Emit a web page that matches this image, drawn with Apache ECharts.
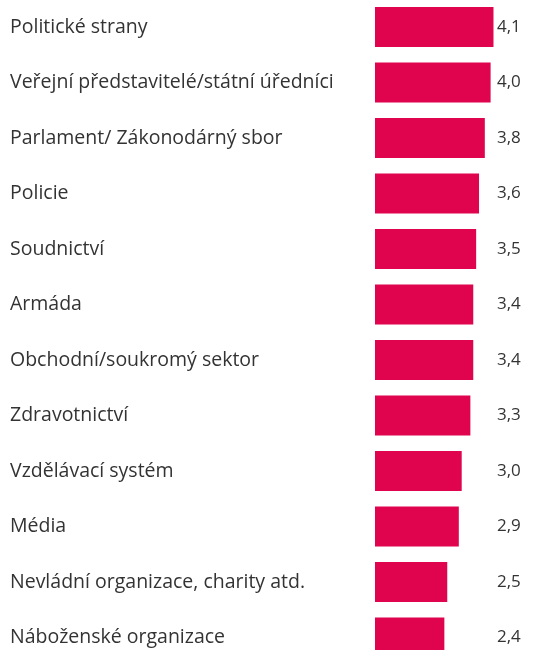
<!DOCTYPE html>
<html>
<head>
<meta charset="utf-8">
<script src="https://cdn.jsdelivr.net/npm/echarts@6/dist/echarts.min.js"></script>
<style>
html,body{margin:0;padding:0;background:#fff;}
#chart{width:534px;height:650px;}
</style>
</head>
<body>
<div id="chart"></div>
<script>
var categories = [
  "Politické strany",
  "Veřejní představitelé/státní úředníci",
  "Parlament/ Zákonodárný sbor",
  "Policie",
  "Soudnictví",
  "Armáda",
  "Obchodní/soukromý sektor",
  "Zdravotnictví",
  "Vzdělávací systém",
  "Média",
  "Nevládní organizace, charity atd.",
  "Náboženské organizace"
];
var values = [4.1, 4.0, 3.8, 3.6, 3.5, 3.4, 3.4, 3.3, 3.0, 2.9, 2.5, 2.4];

var LABEL_COLUMN = 4.22; // axis position of the aligned value-label column
var labelAnchor = categories.map(function(){ return LABEL_COLUMN; });

var chart = echarts.init(document.getElementById('chart'), null, {renderer: 'canvas'});
chart.setOption({
  animation: false,
  backgroundColor: '#ffffff',
  grid: { left: 375, width: 144.5, top: -0.75, height: 666, containLabel: false, outerBoundsMode: 'none' },
  xAxis: {
    type: 'value', min: 0, max: 5,
    show: false
  },
  yAxis: {
    type: 'category',
    data: categories,
    inverse: true,
    axisLine: { show: false },
    axisTick: { show: false },
    splitLine: { show: false },
    axisLabel: {
      align: 'left',
      margin: 365,
      fontSize: 19.5,
      fontFamily: 'Open Sans',
      color: '#333333'
    }
  },
  series: [
    {
      type: 'bar',
      data: values,
      barWidth: 40,
      itemStyle: { color: '#e0044e' },
      z: 2
    },
    {
      type: 'bar',
      data: labelAnchor,
      barWidth: 40,
      barGap: '-100%',
      itemStyle: { color: 'rgba(0,0,0,0)' },
      silent: true,
      z: 1,
      label: {
        show: true,
        position: 'right',
        distance: 0,
        fontSize: 17,
        fontFamily: 'Open Sans',
        color: '#333333',
        formatter: function (p) {
          return values[p.dataIndex].toFixed(1).replace('.', ',');
        }
      }
    }
  ]
});
</script>
</body>
</html>
